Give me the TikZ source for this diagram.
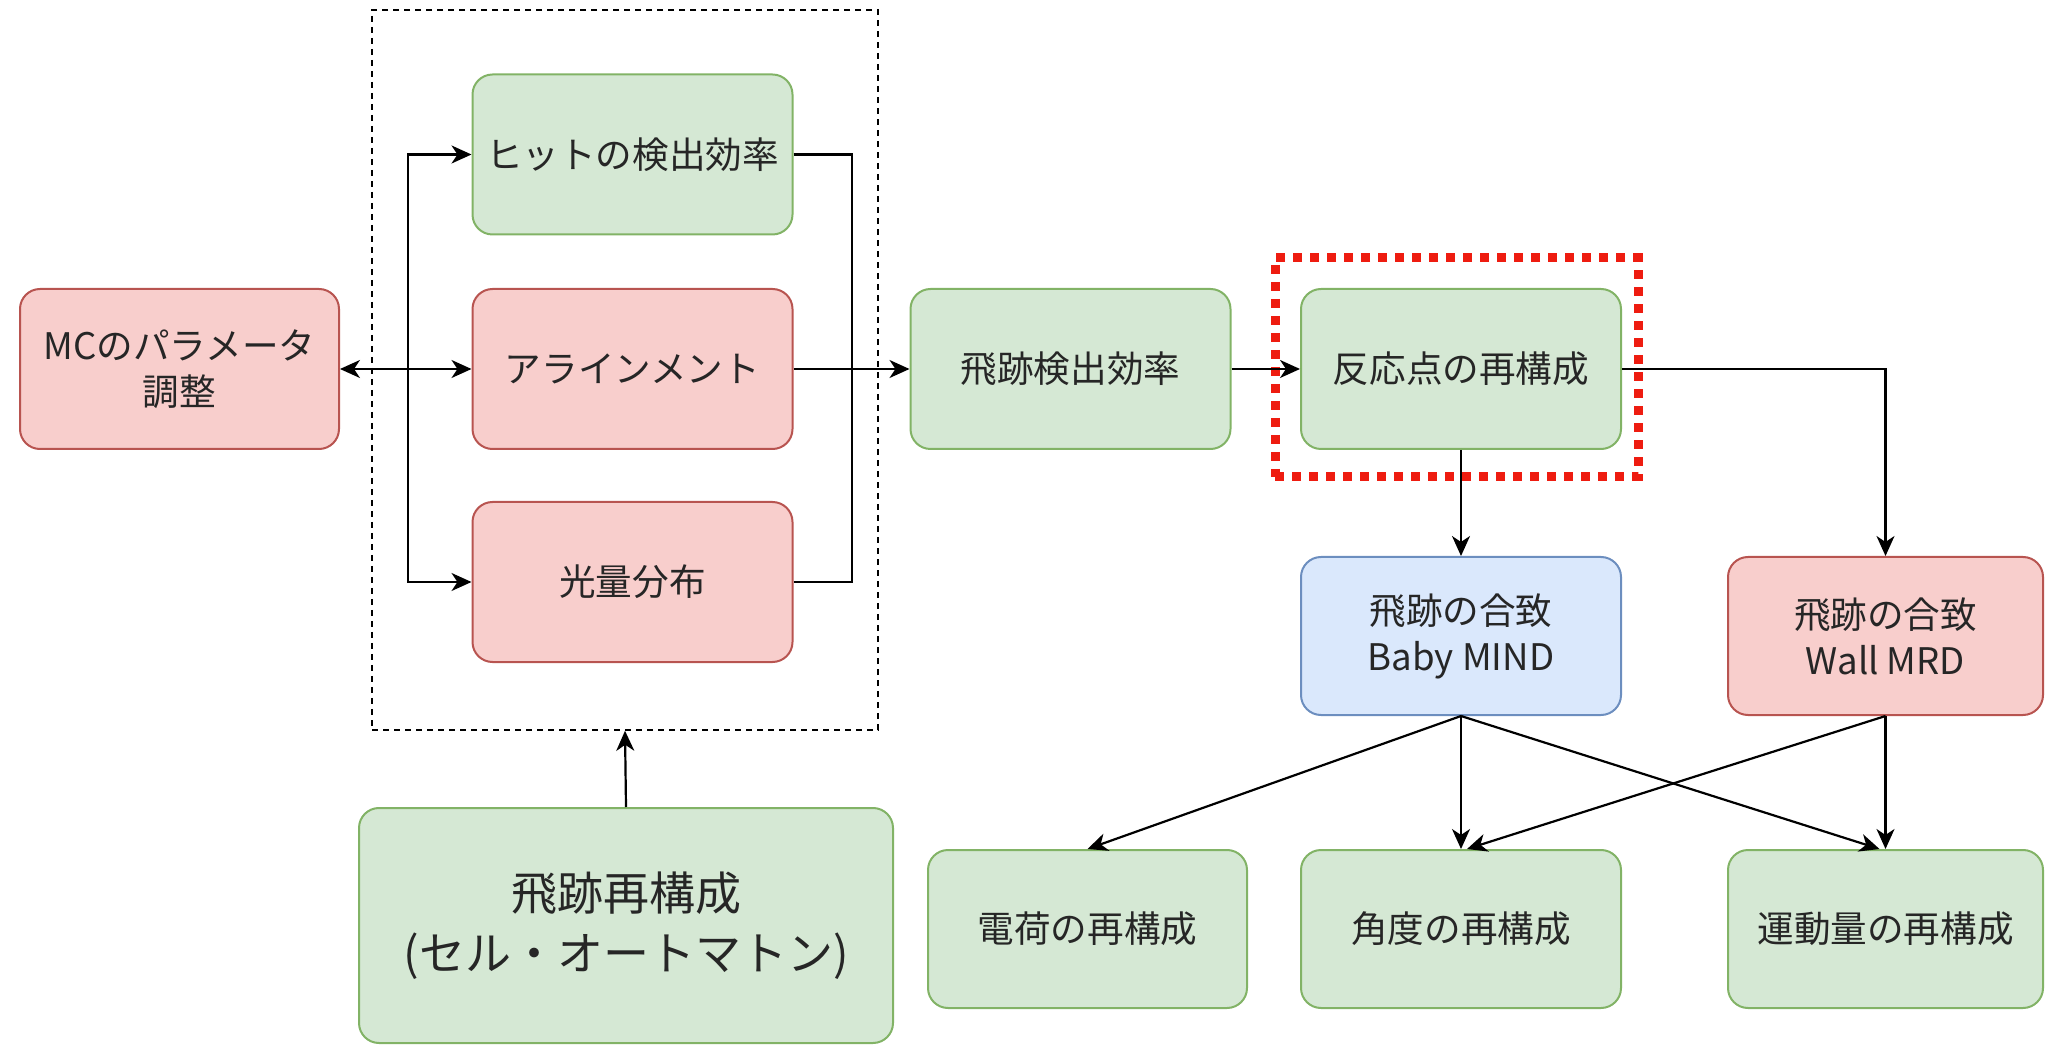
\documentclass[tikz,border=0pt]{standalone}
\usepackage{fontspec}
\newfontfamily\jp{Noto Sans CJK JP}
\usetikzlibrary{arrows.meta}
\definecolor{gfill}{HTML}{D5E8D4}
\definecolor{gdraw}{HTML}{82B366}
\definecolor{rfill}{HTML}{F8CECC}
\definecolor{rdraw}{HTML}{B85450}
\definecolor{bfill}{HTML}{DAE8FC}
\definecolor{bdraw}{HTML}{6C8EBF}
\definecolor{hlred}{HTML}{EE1C10}
\tikzset{
  box/.style={rounded corners=10pt, draw, line width=1pt, align=center, inner sep=0pt,
    font=\jp\fontsize{18.3}{23}\selectfont, text=black!85},
  gbox/.style={box, fill=gfill, draw=gdraw},
  rbox/.style={box, fill=rfill, draw=rdraw},
  bbox/.style={box, fill=bfill, draw=bdraw},
  std/.style={minimum width=160pt, minimum height=80pt},
  conn/.style={line width=1.1pt, draw=black},
  tip/.tip={Stealth[length=10pt, width=9pt, inset=3pt]},
  arr/.style={conn, -tip},
}
\begin{document}
\begin{tikzpicture}[x=0.5pt, y=-0.5pt]
\useasboundingbox (0,0) rectangle (2045,1047);
% dashed group
\node[draw, line width=0.8pt, dash pattern=on 3pt off 2.5pt, minimum width=253pt, minimum height=360pt, inner sep=0] (grp) at (625,370) {};
% highlight
\node[draw=hlred, line width=4.5pt, dash pattern=on 4.5pt off 4pt, minimum width=181.5pt, minimum height=109.5pt, inner sep=0] (hl) at (1456.5,367.5) {};

\node[rbox, std, minimum width=159.5pt] (mc) at (179.5,369) {MCのパラメータ\\調整};
\node[gbox, std] (hit) at (632.5,154.5) {ヒットの検出効率};
\node[rbox, std] (align) at (632.5,369) {アラインメント};
\node[rbox, std] (light) at (632.5,582) {光量分布};
\node[gbox, minimum width=267pt, minimum height=117.5pt, font=\jp\fontsize{23}{30}\selectfont] (trk) at (626,925.5) {飛跡再構成\\(セル・オートマトン)};
\node[gbox, std] (teff) at (1070.5,369) {飛跡検出効率};
\node[gbox, std] (vtx) at (1461,369) {反応点の再構成};
\node[bbox, std, minimum height=79pt] (baby) at (1461,636) {飛跡の合致\\Baby MIND};
\node[rbox, std, minimum width=157.5pt, minimum height=79pt] (wall) at (1885.5,636) {飛跡の合致\\Wall MRD};
\node[gbox, std, minimum width=159.5pt, minimum height=79pt] (chg) at (1087.5,929) {電荷の再構成};
\node[gbox, std, minimum height=79pt] (ang) at (1461,929) {角度の再構成};
\node[gbox, std, minimum width=157.5pt, minimum height=79pt] (mom) at (1885.5,929) {運動量の再構成};

\coordinate (jl) at (408,369);
\coordinate (jr) at (852,369);
\draw[conn, tip-tip] (mc.east) -- (align.west);
\draw[arr] (jl) |- (hit.west);
\draw[arr] (jl) |- (light.west);
\draw[conn] (hit.east) -| (jr);
\draw[conn] (light.east) -| (jr);
\draw[arr] (align.east) -- (teff.west);
\draw[arr] (teff.east) -- (vtx.west);
\draw[arr] (vtx.east) -| (wall.north);
\draw[arr] (vtx.south) -- (baby.north);
\draw[arr] (trk.north) -- (grp.south);
\draw[arr] (baby.south) -- (chg.north);
\draw[arr] (baby.south) -- (ang.north);
\draw[arr] (baby.south) -- ([xshift=-3pt]mom.north);
\draw[arr] (wall.south) -- ([xshift=3pt]ang.north);
\draw[arr] (wall.south) -- (mom.north);
\end{tikzpicture}
\end{document}
